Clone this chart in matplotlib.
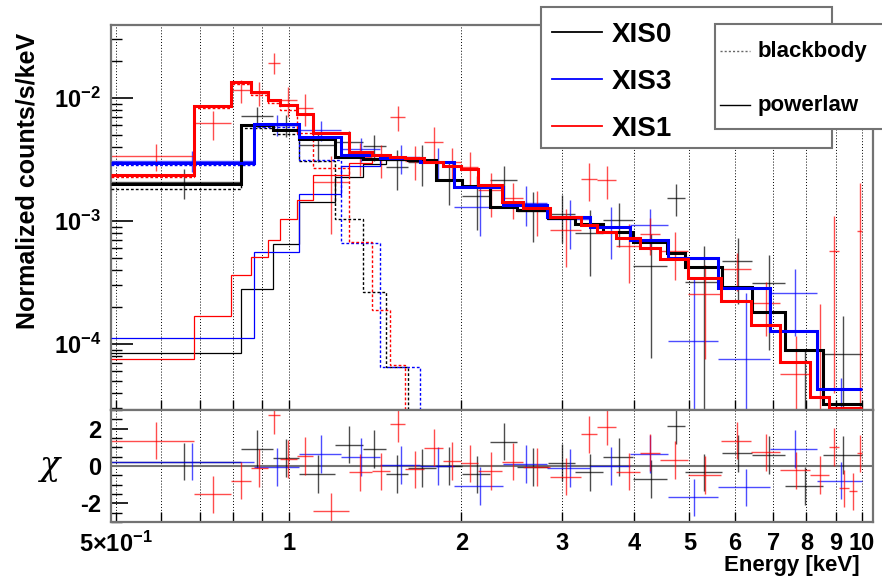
import numpy as np
import matplotlib.pyplot as plt
from matplotlib.colors import to_rgba
from matplotlib.lines import Line2D
from matplotlib.patches import Rectangle
from matplotlib.ticker import LogLocator, NullFormatter, NullLocator, MultipleLocator

plt.rcParams['font.family'] = ['Liberation Sans', 'DejaVu Sans']
plt.rcParams['font.weight'] = 'bold'
plt.rcParams['mathtext.fontset'] = 'custom'
plt.rcParams['mathtext.rm'] = 'Liberation Sans:bold'
plt.rcParams['mathtext.bf'] = 'Liberation Sans:bold'

# ---- XIS0 (black) ----
xis0_edges = [0.49, 0.825, 0.938, 1.041, 1.207, 1.346, 1.476, 1.612, 1.804, 2.010, 2.248,
              2.506, 2.838, 3.162, 3.538, 3.990, 4.574, 4.916, 5.703, 6.432, 7.34, 8.55, 10.0]
xis0_model = [2.00e-3, 6.03e-3, 5.49e-3, 4.64e-3, 3.31e-3, 3.19e-3, 3.19e-3, 3.13e-3, 2.15e-3,
              1.93e-3, 1.30e-3, 1.23e-3, 1.06e-3, 9.46e-4, 8.14e-4, 6.75e-4, 5.49e-4, 4.23e-4,
              2.91e-4, 1.82e-4, 8.94e-5, 3.25e-5]
xis0_bb = [1.82e-3, 5.70e-3, 5.09e-3, 3.07e-3, 1.04e-3, 2.65e-4, 6.5e-5] + [1e-7] * 15
xis0_pl = [8.45e-5, 2.80e-4, 6.50e-4, 1.43e-3, 2.27e-3, 2.93e-3, 3.13e-3, 3.13e-3, 2.15e-3,
           1.93e-3, 1.30e-3, 1.23e-3, 1.06e-3, 9.46e-4, 8.14e-4, 6.75e-4, 5.49e-4, 4.23e-4,
           2.91e-4, 1.82e-4, 8.94e-5, 3.25e-5]
xis0_data = [2.07e-3, 7.14e-3, 6.02e-3, 4.15e-3, 4.41e-3, 4.07e-3, 2.77e-3, 3.01e-3, 2.15e-3,
             1.59e-3, 2.16e-3, 1.20e-3, 1.14e-3, 7.96e-4, 1.01e-3, 4.27e-4, 1.55e-3, 3.18e-4,
             4.7e-4, 3.1e-4, 2.0e-5, 8.3e-5]
xis0_err = [0.55e-3, 1.3e-3, 1.25e-3, 1.15e-3, 0.97e-3, 0.97e-3, 0.97e-3, 1.1e-3, 0.8e-3,
            0.75e-3, 0.66e-3, 0.53e-3, 0.48e-3, 0.44e-3, 0.4e-3, 0.35e-3, 0.46e-3, 0.31e-3,
            2.6e-4, 2.2e-4, 7e-5, 8.5e-5]
xis0_chi = [0.23, 0.91, 0.43, -0.43, 1.14, 0.91, -0.43, -0.11, 0.0, -0.45, 1.31, -0.06, 0.17,
            -0.34, 0.49, -0.70, 2.16, -0.34, 0.68, 0.59, -1.08, 0.59]

# ---- XIS3 (blue) ----
xis3_edges = [0.49, 0.869, 1.041, 1.232, 1.446, 1.698, 1.939, 2.369, 2.827, 3.358, 3.943,
              4.592, 5.613, 6.914, 8.35, 10.0]
xis3_model = [2.96e-3, 6.15e-3, 4.82e-3, 3.44e-3, 3.25e-3, 3.02e-3, 1.89e-3, 1.35e-3, 1.08e-3,
              8.94e-4, 7.01e-4, 5.0e-4, 2.85e-4, 1.28e-4, 4.31e-5]
xis3_bb = [2.85e-3, 5.81e-3, 3.13e-3, 6.62e-4, 6.5e-5] + [1e-7] * 10
xis3_pl = [1.12e-4, 5.6e-4, 1.66e-3, 2.78e-3, 3.19e-3, 3.02e-3, 1.89e-3, 1.35e-3, 1.08e-3,
           8.94e-4, 7.01e-4, 5.0e-4, 2.85e-4, 1.28e-4, 4.31e-5]
xis3_data = [3.10e-3, 6.08e-3, 5.5e-3, 3.87e-3, 3.30e-3, 3.02e-3, 1.30e-3, 1.41e-3, 1.03e-3,
             8.94e-4, 9.2e-4, 1.05e-4, 7.6e-5, 2.6e-4, 1.0e-5]
xis3_err = [0.62e-3, 1.2e-3, 1.05e-3, 0.88e-3, 0.88e-3, 0.88e-3, 0.55e-3, 0.5e-3, 0.44e-3,
            0.4e-3, 0.34e-3, 2.4e-4, 1.85e-4, 1.45e-4, 4.3e-5]
xis3_chi = [0.23, -0.06, 0.65, 0.49, 0.06, 0.0, -1.08, 0.11, -0.11, 0.0, 0.65, -1.67, -1.14,
            0.91, -0.79]

# ---- XIS1 (red) ----
xis1_edges = [0.49, 0.683, 0.792, 0.859, 0.919, 0.964, 1.033, 1.101, 1.272, 1.395, 1.505,
              1.593, 1.725, 1.855, 1.994, 2.143, 2.36, 2.567, 2.86, 3.24, 3.454, 3.727, 4.105,
              4.447, 4.976, 5.68, 6.41, 7.196, 8.12, 8.761, 9.12, 9.49, 9.80, 10.0]
xis1_model = [2.37e-3, 8.61e-3, 1.35e-2, 1.12e-2, 9.63e-3, 8.77e-3, 7.41e-3, 5.19e-3, 3.64e-3,
              3.44e-3, 3.31e-3, 3.25e-3, 3.02e-3, 2.80e-3, 2.65e-3, 1.96e-3, 1.43e-3, 1.28e-3,
              1.08e-3, 9.28e-4, 8.14e-4, 7.28e-4, 6.03e-4, 4.91e-4, 3.44e-4, 2.24e-4, 1.43e-4,
              7.14e-5, 3.71e-5, 3.02e-5, 3.02e-5, 3.02e-5, 3.02e-5]
xis1_bb = [2.28e-3, 8.29e-3, 1.30e-2, 1.06e-2, 9.11e-3, 7.99e-3, 5.2e-3, 2.70e-3, 6.75e-4,
           1.89e-4, 6.75e-5] + [1e-7] * 22
xis1_pl = [7.55e-5, 1.69e-4, 3.64e-4, 5.10e-4, 7.01e-4, 1.04e-3, 1.48e-3, 2.37e-3, 2.97e-3,
           3.25e-3, 3.24e-3, 3.25e-3, 3.02e-3, 2.80e-3, 2.65e-3, 1.96e-3, 1.43e-3, 1.28e-3,
           1.08e-3, 9.28e-4, 8.14e-4, 7.28e-4, 6.03e-4, 4.91e-4, 3.44e-4, 2.24e-4, 1.43e-4,
           7.14e-5, 3.71e-5, 3.02e-5, 3.02e-5, 3.02e-5, 3.02e-5]
xis1_data = [3.39e-3, 6.21e-3, 1.16e-2, 1.10e-2, 1.93e-2, 9.6e-3, 8.3e-3, 2.09e-3, 3.31e-3,
             3.18e-3, 7.0e-3, 3.10e-3, 4.4e-3, 3.04e-3, 2.76e-3, 1.77e-3, 1.54e-3, 1.25e-3,
             0.84e-3, 2.2e-3, 2.15e-3, 6.3e-4, 7.9e-4, 5.7e-4, 2.55e-4, 4.1e-4, 2.17e-4,
             5.7e-5, 2.0e-5, 5.7e-4, 1.0e-6, 1.0e-6, 8.3e-4]
xis1_err = [0.85e-3, 1.65e-3, 2.5e-3, 2.4e-3, 3.7e-3, 2.6e-3, 2.4e-3, 1.3e-3, 1.0e-3,
            0.95e-3, 1.65e-3, 0.95e-3, 1.4e-3, 0.9e-3, 0.85e-3, 0.7e-3, 0.5e-3, 0.5e-3,
            0.42e-3, 0.75e-3, 0.64e-3, 3.2e-4, 2.6e-4, 2.4e-4, 1.8e-4, 1.4e-4, 1.0e-4,
            6.0e-5, 1.9e-4, 5.3e-4, 2.5e-5, 2.2e-5, 1.2e-3]
xis1_chi = [1.36, -1.51, -0.79, -0.11, 2.72, 0.37, 0.54, -2.43, -0.34, -0.28, 2.27, -0.17,
            0.98, 0.27, 0.14, -0.27, 0.23, -0.06, -0.57, 1.70, 2.10, -0.31, 0.72, 0.33,
            -0.49, 1.35, 0.74, -0.23, -0.49, 1.02, -1.19, -1.36, 0.68]

legend_names = ['XIS0', 'XIS3', 'XIS1']
legend_colors = ['black', '#0000ff', '#ff0000']
component_names = ['blackbody', 'powerlaw']
xtick_pos = [0.5, 0.6, 0.7, 0.8, 0.9, 1, 2, 3, 4, 5, 6, 7, 8, 9, 10]
xtick_lab = [r'$\mathbf{5{\times}10^{-1}}$', '', '', '', '', '1', '2', '3', '4', '5', '6',
             '7', '8', '9', '10']

W, H = 882, 578
fig = plt.figure(figsize=(W / 100, H / 100), dpi=100)


def fx(x):
    return x / W


def fy(y):
    return 1 - y / H


ax = fig.add_axes([fx(111), fy(410), fx(873) - fx(111), fy(25) - fy(410)])
axr = fig.add_axes([fx(111), fy(522), fx(873) - fx(111), fy(410) - fy(522)], sharex=ax)


def draw(edges, model, bb, pl, data, err, chi, color):
    edges = np.array(edges)
    lo, hi = edges[:-1], edges[1:]
    cen = (lo + hi) / 2
    xerr = [cen - lo, hi - cen]
    ec = to_rgba(color, 0.7)
    ax.errorbar(cen, data, xerr=xerr, yerr=err, fmt='none', ecolor=ec,
                elinewidth=1.0, capsize=0, zorder=2)
    ax.stairs(bb, edges, baseline=None, color=color, lw=1.0,
              linestyle=(0, (2, 1.5)), zorder=3)
    ax.stairs(pl, edges, baseline=None, color=color, lw=0.9, zorder=3)
    ax.stairs(model, edges, baseline=None, color=color, lw=2.2, zorder=4)
    axr.errorbar(cen, chi, xerr=xerr, yerr=1.0, fmt='none', ecolor=ec,
                 elinewidth=1.0, capsize=0, zorder=2)


draw(xis0_edges, xis0_model, xis0_bb, xis0_pl, xis0_data, xis0_err, xis0_chi, legend_colors[0])
draw(xis3_edges, xis3_model, xis3_bb, xis3_pl, xis3_data, xis3_err, xis3_chi, legend_colors[1])
draw(xis1_edges, xis1_model, xis1_bb, xis1_pl, xis1_data, xis1_err, xis1_chi, legend_colors[2])

# axes setup
ax.set_xscale('log')
ax.set_yscale('log')
ax.set_xlim(0.49, 10.45)
ax.set_ylim(2.9e-5, 0.0392)
axr.set_ylim(-3, 3)
axr.axhline(0, color='0.45', lw=1.5, zorder=1.8)

axr.set_xticks(xtick_pos, xtick_lab)
axr.xaxis.set_minor_locator(NullLocator())
ax.set_yticks([1e-4, 1e-3, 1e-2],
              [r'$\mathbf{10^{-4}}$', r'$\mathbf{10^{-3}}$', r'$\mathbf{10^{-2}}$'])
ax.yaxis.set_minor_locator(LogLocator(base=10, subs=np.arange(2, 10)))
ax.yaxis.set_minor_formatter(NullFormatter())
axr.set_yticks([-2, 0, 2], ['-2', '0', '2'])
axr.yaxis.set_minor_locator(MultipleLocator(0.5))

for a in (ax, axr):
    a.grid(True, axis='x', which='major', color='k', ls=(0, (1, 2)), lw=0.7)
    for sp in a.spines.values():
        sp.set_color('0.45')
        sp.set_linewidth(1.6)
    a.tick_params(axis='y', which='major', direction='in', length=16, width=1.2,
                  labelsize=17, pad=7)
    a.tick_params(axis='y', which='minor', direction='in', length=8, width=1.0)
    a.tick_params(axis='x', which='major', direction='in', length=7, width=1.0,
                  labelsize=17, pad=7)

ax.tick_params(axis='x', labelbottom=False)
axr.tick_params(axis='y', which='major', length=12)

fig.text(fx(28), fy(181), 'Normalized counts/s/keV', rotation=90, ha='center',
         va='center', fontsize=18, fontweight='bold')
fig.text(fx(50), fy(466), 'χ', ha='center', va='center', fontsize=24,
         fontweight='normal', family='DejaVu Serif', style='italic')
fig.text(fx(860), fy(566), 'Energy [keV]', ha='right', va='center', fontsize=16,
         fontweight='bold')

# legend 1: detectors
fig.add_artist(Rectangle((fx(541), fy(148)), fx(832) - fx(541), fy(7) - fy(148),
                         transform=fig.transFigure, facecolor='white', edgecolor='0.45',
                         lw=1.5, zorder=5))
for i, (name, col) in enumerate(zip(legend_names, legend_colors)):
    yl = 32 + 47 * i
    fig.add_artist(Line2D([fx(552), fx(602)], [fy(yl), fy(yl)], transform=fig.transFigure,
                          color=col, lw=1.3, zorder=6))
    fig.text(fx(612), fy(yl + 3), name, fontsize=20, fontweight='bold', va='center',
             zorder=6)

# legend 2: model components
fig.add_artist(Rectangle((fx(715), fy(129)), fx(895) - fx(715), fy(24) - fy(129),
                         transform=fig.transFigure, facecolor='white', edgecolor='0.45',
                         lw=1.5, zorder=7, clip_on=False))
fig.add_artist(Line2D([fx(720), fx(750)], [fy(51), fy(51)], transform=fig.transFigure,
                      color='0.4', lw=1.0, ls=(0, (1.5, 1.5)), zorder=8))
fig.add_artist(Line2D([fx(720), fx(750)], [fy(105), fy(105)], transform=fig.transFigure,
                      color='black', lw=1.0, zorder=8))
fig.text(fx(758), fy(51), component_names[0], fontsize=16, fontweight='bold',
         va='center', zorder=8)
fig.text(fx(758), fy(106), component_names[1], fontsize=16, fontweight='bold',
         va='center', zorder=8)

fig.savefig('out.png', dpi=100)
